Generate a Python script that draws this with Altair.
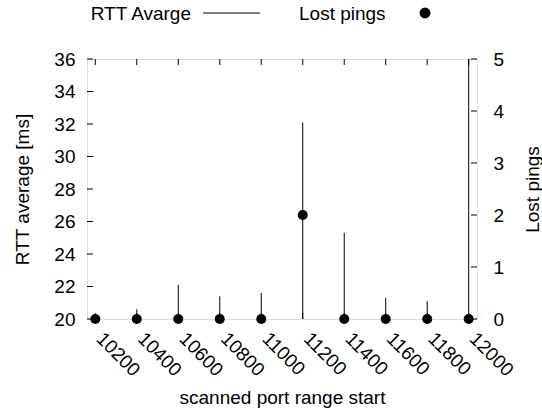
import altair as alt
import pandas as pd

# ---- data ----
ports = [10200, 10400, 10600, 10800, 11000, 11200, 11400, 11600, 11800, 12000]
rtt_avg = [20.3, 20.6, 22.1, 21.4, 21.6, 32.1, 25.3, 21.3, 21.1, 36.5]
lost_pings = [0, 0, 0, 0, 0, 2, 0, 0, 0, 0]
left_ticks = [20, 22, 24, 26, 28, 30, 32, 34, 36]
right_ticks = [0, 1, 2, 3, 4, 5]
legend_labels = ["RTT Avarge", "Lost pings"]

FONT = "Liberation Sans"
FS = 19
W, H = 390, 260

df = pd.DataFrame({"port": ports, "rtt": rtt_avg, "lost": lost_pings})
dl = pd.DataFrame({"rtt": left_ticks})
dr = pd.DataFrame({"lost": right_ticks})

xs = alt.Scale(domain=[10160, 12040], nice=False, zero=False)
yl = alt.Scale(domain=[20, 36], nice=False, zero=False)
yr = alt.Scale(domain=[0, 5], nice=False, zero=False)

x_axis = alt.Axis(
    values=ports, title="scanned port range start", grid=False, domain=False,
    ticks=False, labelAngle=45, labelAlign="left", labelBaseline="top",
    labelPadding=10, labelOffset=10, labelFlush=False,
    labelOverlap=False, labelFontSize=FS,
    labelFont=FONT, labelColor="black", titleFont=FONT, titleFontSize=FS,
    titleFontWeight="normal", titleColor="black", titleX=W / 2, titleY=84,
    titleBaseline="alphabetic", titleAlign="center", format="d",
)
yl_axis = alt.Axis(
    values=left_ticks, title="RTT average [ms]", orient="left", grid=False,
    domain=False, ticks=False, labelPadding=12, labelFlush=False,
    labelFontSize=FS, labelFont=FONT, labelColor="black", titleFont=FONT,
    titleFontSize=FS, titleFontWeight="normal", titleColor="black",
    titleAngle=270, titleX=-59, titleY=H / 2, titleBaseline="alphabetic",
    titleAlign="center",
)
yr_axis = alt.Axis(
    values=right_ticks, title="Lost pings", orient="right", grid=False,
    domain=False, ticks=False, labelPadding=16, labelFlush=False,
    labelFontSize=FS, labelFont=FONT, labelColor="black", titleFont=FONT,
    titleFontSize=FS, titleFontWeight="normal", titleColor="black",
    titleAngle=270, titleX=61, titleY=H / 2, titleBaseline="alphabetic",
    titleAlign="center",
)

X = alt.X("port:Q", scale=xs, axis=x_axis)
YL = alt.Y("rtt:Q", scale=yl, axis=yl_axis)
YR = alt.Y("lost:Q", scale=yr, axis=yr_axis)

rtt_rules = alt.Chart(df).mark_rule(color="black", strokeWidth=1, clip=True).encode(
    x=X, y=YL, y2=alt.datum(20)
)
lt = alt.Chart(dl).mark_rule(color="black").encode(
    y=YL, x=alt.value(0), x2=alt.value(6)
)
top_ticks = alt.Chart(df).mark_rule(color="black").encode(
    x=X, y=alt.value(0), y2=alt.value(6)
)
bot_ticks = alt.Chart(df).mark_rule(color="black").encode(
    x=X, y=alt.value(H - 6), y2=alt.value(H)
)

leg1_text = alt.Chart(pd.DataFrame({"t": [legend_labels[0]]})).mark_text(
    align="right", baseline="alphabetic", font=FONT, fontSize=FS, color="black"
).encode(text="t:N", x=alt.value(104), y=alt.value(-39))
leg1_line = alt.Chart(pd.DataFrame({"t": [legend_labels[0]]})).mark_rule(
    color="black", strokeWidth=1
).encode(x=alt.value(116), x2=alt.value(173), y=alt.value(-46))
leg2_text = alt.Chart(pd.DataFrame({"t": [legend_labels[1]]})).mark_text(
    align="left", baseline="alphabetic", font=FONT, fontSize=FS, color="black"
).encode(text="t:N", x=alt.value(212), y=alt.value(-39))
leg2_dot = alt.Chart(pd.DataFrame({"t": [legend_labels[1]]})).mark_circle(
    color="black", opacity=1, size=120
).encode(x=alt.value(338), y=alt.value(-46))

left = alt.layer(rtt_rules, lt, top_ticks, bot_ticks, leg1_text, leg1_line, leg2_text, leg2_dot)

points = alt.Chart(df).mark_circle(color="black", opacity=1, size=100).encode(
    x=X, y=YR
)
rt = alt.Chart(dr).mark_rule(color="black").encode(
    y=YR, x=alt.value(W - 6), x2=alt.value(W)
)
right = alt.layer(rt, points)

chart = (
    alt.layer(left, right)
    .resolve_scale(y="independent")
    .properties(
        width=W, height=H, autosize="none",
        padding={"left": 87, "top": 59, "right": 65, "bottom": 93},
        background="white",
    )
    .configure_view(stroke="black", strokeWidth=1.2)
    .configure(font=FONT)
)

chart.save("out.html", embed_options={"renderer": "svg", "actions": False})
